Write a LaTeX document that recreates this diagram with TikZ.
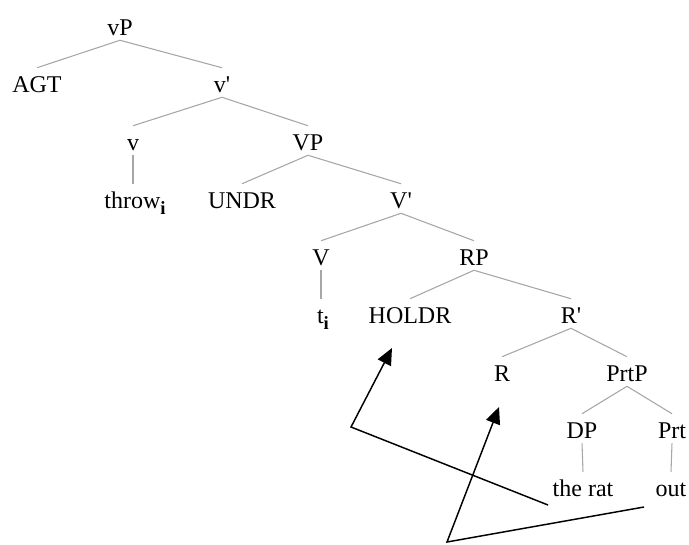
\documentclass[tikz,border=0pt]{standalone}
\usepackage{fontspec}
\setmainfont{Liberation Serif}[Ligatures=TeXOff]
\usepackage{tikz}
\usetikzlibrary{arrows.meta}
\tikzset{
    cat/.style={anchor=base,inner sep=0pt,text height=18pt,text depth=3.75pt,
        font=\fontsize{18}{20}\selectfont},
    tree/.style={
        every node/.style=cat,
        every edge/.style={draw,gray!70,line width=0.8pt},
    },
    mv/.style={draw,line width=1.1pt,-{Triangle[length=12.5pt,width=11pt]}},
}
\newcommand{\idx}{\raisebox{-5pt}{\fontsize{14}{14}\selectfont\bfseries i}}

\begin{document}
\begin{tikzpicture}[tree,x=0.75pt,y=-0.75pt]
\useasboundingbox (0,0) rectangle (689,544);
\node (vP)    at (120,35)  {vP};
\node (AGT)   at (37,92)   {AGT};
\node (vbar)  at (222,92)  {v'};
\node (v)     at (133,150) {v};
\node (throw) at (135,208) {throw\idx};
\node (VP)    at (308,150) {VP};
\node (UNDR)  at (242,208) {UNDR};
\node (Vbar)  at (401,208) {V'};
\node (V)     at (321,265) {V};
\node (ti)    at (323,323) {t\idx};
\node (RP)    at (474,265) {RP};
\node (HOLDR) at (410,323) {HOLDR};
\node (Rbar)  at (571,323) {R'};
\node (R)     at (502,381) {R};
\node (PrtP)  at (627,381) {PrtP};
\node (DP)    at (582,438) {DP};
\node (Prt)   at (672,438) {Prt};
\node (rat)   at (583,496) {the rat};
\node (out)   at (671,496) {out};
\path
    (vP.south) edge (AGT.north)
    (vP.south) edge (vbar.north)
    (vbar.south) edge (v.north)
    (vbar.south) edge (VP.north)
    (v.south) edge (v|-throw.north)
    (VP.south) edge (UNDR.north)
    (VP.south) edge (Vbar.north)
    (Vbar.south) edge (V.north)
    (Vbar.south) edge (RP.north)
    (V.south) edge (V|-ti.north)
    (RP.south) edge (HOLDR.north)
    (RP.south) edge (Rbar.north)
    (Rbar.south) edge (R.north)
    (Rbar.south) edge (PrtP.north)
    (PrtP.south) edge (DP.north)
    (PrtP.south) edge (Prt.north)
    (DP.south) edge (rat.north)
    (Prt.south) edge (out.north)
;
% movement arrows
\coordinate (ratfoot)  at (548,505);
\coordinate (bendA)    at (351,427);
\coordinate (holdrtip) at (392,348);
\coordinate (outfoot)  at (644,507);
\coordinate (bendB)    at (447,542);
\coordinate (rtip)     at (499,407);
\draw[mv] (ratfoot) -- (bendA) -- (holdrtip);
\draw[mv] (outfoot) -- (bendB) -- (rtip);
\end{tikzpicture}
\end{document}
